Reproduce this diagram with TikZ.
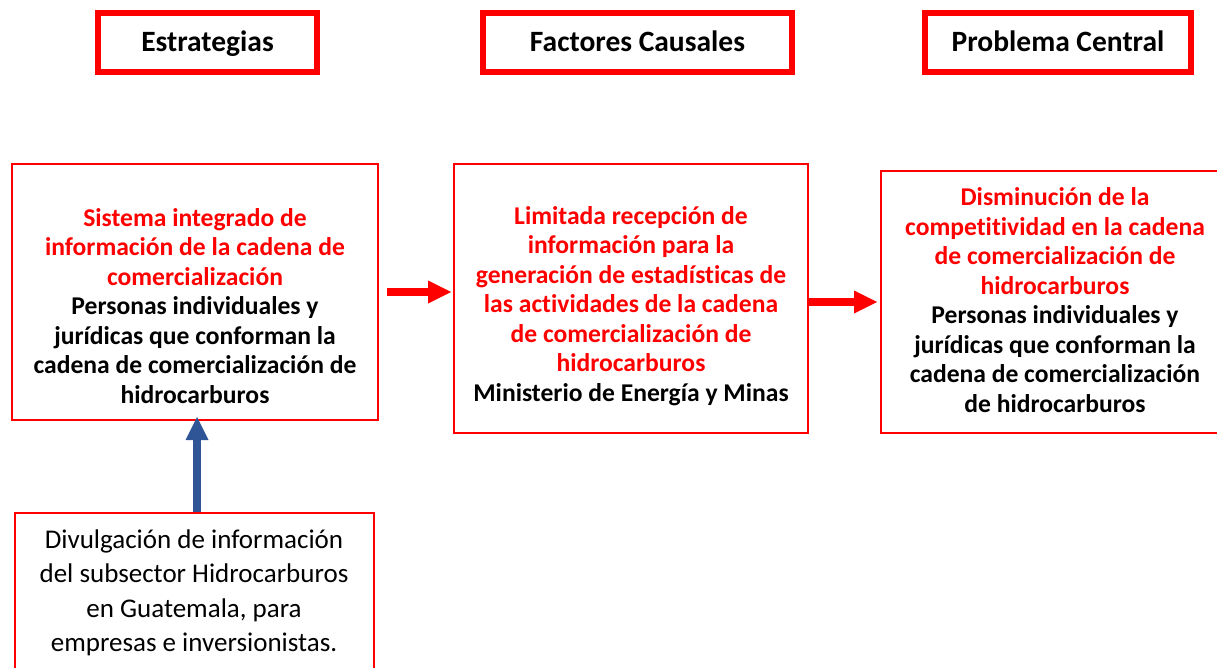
\documentclass[tikz,border=0pt]{standalone}
\usepackage{fontspec}
\setmainfont[Ligatures=NoCommon]{Carlito}
\usetikzlibrary{positioning,arrows.meta}
\definecolor{arrblue}{RGB}{47,85,151}

\begin{document}
\begin{tikzpicture}[
  x=1pt, y=-1pt,
  head/.style={draw=red, line width=6pt, minimum height=59pt, inner sep=0pt,
               text height=19pt, text depth=0pt,
               font=\fontsize{29.5}{32}\selectfont\bfseries},
  box/.style={draw=red, line width=2pt, inner sep=0pt},
  txt/.style={align=center, inner sep=0pt, font=\fontsize{25.6}{29.5}\selectfont\bfseries},
  plain/.style={align=center, inner sep=0pt, font=\fontsize{27}{34.5}\selectfont},
  arr/.style={-{Triangle[length=23pt, width=23pt, line width=0pt]}, line width=8pt, red},
  barr/.style={arr, arrblue}
]
\useasboundingbox (0,0) rectangle (1217,668);
\clip (0,0) rectangle (1217,668);
% ----- column headers -----
\node[head, minimum width=219pt] (h1) at (207.5,42.5) {Estrategias};
\node[head, minimum width=309pt] (h2) at (637.5,42.5) {Factores Causales};
\node[head, minimum width=266pt] (h3) at (1058,42.5)  {Problema Central};
% ----- boxes -----
\node[box, minimum width=366pt, minimum height=256pt] (b1) at (195,292)    {};
\node[box, minimum width=354pt, minimum height=269pt] (b2) at (631,298.5)  {};
\node[box, minimum width=349pt, minimum height=262pt] (b3) at (1055.5,302) {};
\node[box, minimum width=359pt, minimum height=177pt] (b4) at (194.5,601.5) {};
% ----- box texts -----
\node[txt] (t1) at (195,306)
  {{\color{red}Sistema integrado de}\\{\color{red}información de la cadena de}\\{\color{red}comercialización}\\
   Personas individuales y\\jurídicas que conforman la\\cadena de comercialización de\\hidrocarburos};
\node[txt] (t2) at (631,306)
  {{\color{red}Limitada recepción de}\\{\color{red}información para la}\\{\color{red}generación de estadísticas de}\\
   {\color{red}las actividades de la cadena}\\{\color{red}de comercialización de}\\{\color{red}hidrocarburos}\\
   Ministerio de Energía y Minas};
\node[txt] (t3) at (1055,300)
  {{\color{red}Disminución de la}\\{\color{red}competitividad en la cadena}\\{\color{red}de comercialización de}\\
   {\color{red}hidrocarburos}\\Personas individuales y\\jurídicas que conforman la\\cadena de comercialización\\
   de hidrocarburos};
\node[plain] (t4) at (194,593)
  {Divulgación de información\\del subsector Hidrocarburos\\en Guatemala, para\\empresas e inversionistas.};
% ----- connections -----
\draw[arr] ([xshift=8pt]b1.east) -- ([xshift=-2pt]b1.east -| b2.west);
\draw[arr] (b2.east |- b3.west) -- ([xshift=-3pt]b3.west);
\draw[barr] ([xshift=2.5pt]b4.north) -- ([xshift=2.5pt, yshift=4pt]b4.north |- b1.south);
\end{tikzpicture}
\end{document}
